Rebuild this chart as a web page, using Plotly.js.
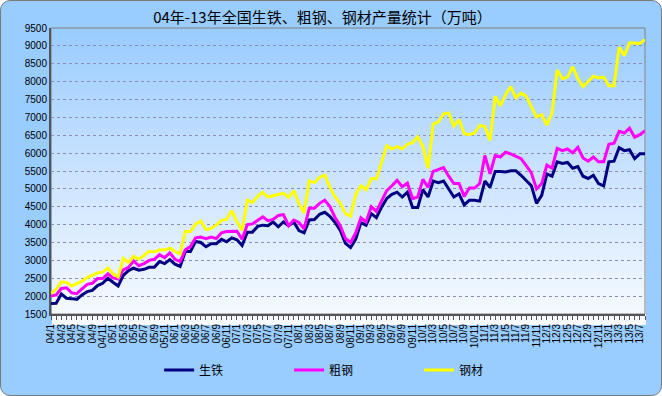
<!DOCTYPE html>
<html><head><meta charset="utf-8">
<script src="https://cdn.plot.ly/plotly-3.0.1.min.js"></script>
<style>
html,body{margin:0;padding:0;background:#ffffff;}
#wrap{position:absolute;left:0;top:0;width:660px;height:394px;border:1px solid #7a7a7a;border-radius:10px;background:#99CCFF;overflow:hidden;}
#grad{position:absolute;left:51px;top:28px;width:594px;height:296px;background:linear-gradient(to bottom,#99CCFF 0%,#CCE4FF 50%,#F8FBFF 100%);}
#chart{position:absolute;left:-1px;top:-1px;width:662px;height:396px;}
</style></head>
<body>
<div id="wrap"><div id="grad"></div><div id="chart"></div></div>
<script>
const months = ["04/1","04/2","04/3","04/4","04/5","04/6","04/7","04/8","04/9","04/10","04/11","04/12",
"05/1","05/2","05/3","05/4","05/5","05/6","05/7","05/8","05/9","05/10","05/11","05/12",
"06/1","06/2","06/3","06/4","06/5","06/6","06/7","06/8","06/9","06/10","06/11","06/12",
"07/1","07/2","07/3","07/4","07/5","07/6","07/7","07/8","07/9","07/10","07/11","07/12",
"08/1","08/2","08/3","08/4","08/5","08/6","08/7","08/8","08/9","08/10","08/11","08/12",
"09/1","09/2","09/3","09/4","09/5","09/6","09/7","09/8","09/9","09/10","09/11","09/12",
"10/1","10/2","10/3","10/4","10/5","10/6","10/7","10/8","10/9","10/10","10/11","10/12",
"11/1","11/2","11/3","11/4","11/5","11/6","11/7","11/8","11/9","11/10","11/11","11/12",
"12/1","12/2","12/3","12/4","12/5","12/6","12/7","12/8","12/9","12/10","12/11","12/12",
"13/1","13/2","13/3","13/4","13/5","13/6","13/7","13/8"];

const pigIron = [1795,1800,2060,1940,1930,1910,2035,2125,2160,2295,
2360,2500,2390,2285,2580,2715,2780,2725,2750,2805,
2805,2965,2910,3020,2895,2830,3250,3250,3530,3500,
3380,3465,3465,3590,3520,3630,3575,3415,3790,3790,
3950,3985,3970,4075,3940,4075,3970,4075,3835,3770,
4130,4140,4290,4345,4235,4060,3834,3476,3360,3592,
4057,3986,4308,4192,4487,4728,4845,4907,4773,4907,
4478,4478,4979,4773,5220,5175,5220,4997,4773,4862,
4550,4684,4684,4657,5220,5041,5489,5489,5471,5506,
5506,5381,5220,5086,4594,4818,5417,5354,5757,5712,
5739,5578,5623,5354,5292,5381,5149,5086,5757,5775,
6150,6070,6097,5846,5980,5980];

const crudeSteel = [2000,2035,2215,2233,2090,2070,2200,2330,2360,2490,
2490,2625,2510,2480,2735,2805,2985,2850,2910,3000,
3030,3160,3075,3210,3030,2965,3295,3385,3630,3655,
3610,3655,3610,3770,3805,3805,3815,3590,4000,4020,
4130,4220,4110,4145,4255,4280,3970,4130,4060,3880,
4460,4460,4595,4685,4505,4200,3968,3610,3503,3771,
4192,4075,4505,4370,4666,4952,5086,5238,5059,5158,
4728,4773,5265,5041,5489,5533,5596,5354,5149,5149,
4791,5023,5023,5149,5936,5417,5936,5891,6025,5981,
5918,5846,5650,5444,4997,5149,5667,5578,6133,6070,
6115,6007,6160,5864,5775,5891,5757,5757,6249,6276,
6607,6562,6696,6446,6517,6625];

const steelProducts = [2070,2197,2400,2385,2285,2360,2420,2520,2580,2645,
2670,2787,2626,2537,3055,2939,3109,3038,3136,3252,
3234,3297,3288,3342,3252,3181,3807,3807,4013,4102,
3861,3896,3986,4120,4147,4388,4084,3834,4684,4621,
4791,4907,4773,4818,4845,4880,4755,4952,4594,4326,
5220,5176,5327,5381,5041,4773,4594,4308,4236,4845,
5086,4970,5292,5283,5712,6204,6115,6186,6115,6249,
6294,6455,6186,5578,6812,6875,7099,7126,6759,6938,
6544,6517,6562,6777,6741,6356,7591,7322,7635,7859,
7546,7680,7591,7278,7009,7081,6786,7117,8324,8083,
8127,8422,8083,7859,7993,8154,8101,8127,7886,7886,
8959,8727,9085,9067,9067,9174];

const seriesNames = ["生铁","粗钢","钢材"];
const seriesColors = ["#000080","#FF00FF","#FFFF00"];

const xIdx = months.map((m,i)=>i);
const tickIdx = xIdx.filter(i=>i%2===0);
const tickTxt = tickIdx.map(i=>months[i]);

const traces = [pigIron, crudeSteel, steelProducts].map((ys,k)=>({
  x: xIdx, y: ys, type:'scatter', mode:'lines', name: seriesNames[k],
  line:{color: seriesColors[k], width:3}, hoverinfo:'skip'
}));

const layout = {
  width:662, height:396,
  paper_bgcolor:'rgba(0,0,0,0)', plot_bgcolor:'rgba(0,0,0,0)',
  margin:{l:51, r:17, t:28, b:72},
  title:{text:'04年-13年全国生铁、粗钢、钢材产量统计（万吨）', x:0.487, xanchor:'center', y:0.955, yanchor:'middle',
         font:{family:'"Noto Sans CJK SC", sans-serif', size:15, color:'#000'}},
  xaxis:{range:[0,115], tickmode:'array', tickvals:tickIdx, ticktext:tickTxt, tickangle:-90,
         showgrid:false, zeroline:false, showline:true, linecolor:'#555', linewidth:2,
         ticks:'outside', ticklen:4, tickcolor:'#555',
         minor:{dtick:1, tick0:0, ticks:'outside', ticklen:4, tickcolor:'#555', showgrid:false},
         tickfont:{family:'"Liberation Sans", Arial, sans-serif', size:10, color:'#000'}},
  yaxis:{range:[1500,9500], dtick:500, tick0:1500, showgrid:true, gridcolor:'#8c8cb4', griddash:'dot', gridwidth:1,
         zeroline:false, showline:true, linecolor:'#555', linewidth:2, ticks:'',
         tickfont:{family:'"Liberation Sans", Arial, sans-serif', size:10, color:'#000'}},
  shapes:[{type:'rect', xref:'paper', yref:'paper', x0:0, x1:1, y0:0, y1:1, line:{color:'#808080', width:1}, layer:'below'}],
  showlegend:true,
  legend:{orientation:'h', x:0.182, xanchor:'left', y:-0.196, yanchor:'middle', bgcolor:'rgba(0,0,0,0)',
          entrywidth:85, entrywidthmode:'pixels',
          font:{family:'"Noto Sans CJK SC", sans-serif', size:12, color:'#000'}}
};

Plotly.newPlot('chart', traces, layout, {staticPlot:true, displayModeBar:false});
</script>
</body></html>
